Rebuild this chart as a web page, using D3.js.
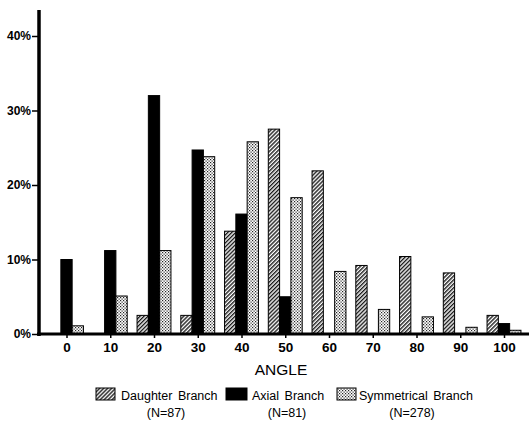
<!DOCTYPE html>
<html><head><meta charset="utf-8">
<script src="https://cdn.jsdelivr.net/npm/d3@7/dist/d3.min.js"></script>
<style>
body{margin:0;background:#fff;}
svg{display:block;}
.tk text{font-family:"Liberation Sans Narrow","Arial Narrow",sans-serif;font-weight:bold;fill:#000;}
</style></head><body>
<svg id="c" width="529" height="422"></svg>
<script>
const angles = [0,10,20,30,40,50,60,70,80,90,100];
const daughter = [0,0,2.5,2.5,13.8,27.5,21.9,9.2,10.4,8.2,2.5];
const axial = [10.0,11.2,32.0,24.7,16.1,5.0,0,0,0,0,1.4];
const symmetrical = [1.1,5.1,11.2,23.8,25.8,18.3,8.4,3.3,2.3,0.9,0.5];
const yTicks = [0,10,20,30,40];
const seriesNames = ["Daughter Branch","Axial Branch","Symmetrical Branch"];
const seriesN = ["(N=87)","(N=81)","(N=278)"];

const svg = d3.select("#c");
const defs = svg.append("defs");
const ph = defs.append("pattern").attr("id","hatch").attr("patternUnits","userSpaceOnUse")
  .attr("width",2.8).attr("height",2.8).attr("patternTransform","rotate(45)");
ph.append("rect").attr("width",2.8).attr("height",2.8).attr("fill","#fff");
ph.append("rect").attr("width",1.4).attr("height",2.8).attr("fill","#1a1a1a");
const pd = defs.append("pattern").attr("id","dots").attr("patternUnits","userSpaceOnUse")
  .attr("width",3).attr("height",3);
pd.append("rect").attr("width",3).attr("height",3).attr("fill","#fff");
pd.append("rect").attr("x",0).attr("y",0).attr("width",1.2).attr("height",1.2).attr("fill","#222");
pd.append("rect").attr("x",1.5).attr("y",1.5).attr("width",1.2).attr("height",1.2).attr("fill","#222");

const fills = ["url(#hatch)","#000","url(#dots)"];
const x = d3.scaleLinear().domain([0,100]).range([66.5,504]);
const y = d3.scaleLinear().domain([0,40]).range([334,36]);
const bw = 11.3;
const offs = [-1.5,-0.5,0.5];
const data = [daughter,axial,symmetrical];

data.forEach((vals,si)=>{
  svg.append("g").selectAll("rect").data(angles.map((a,i)=>({a,v:vals[i]})).filter(d=>d.v>0))
    .join("rect")
    .attr("x",d=>x(d.a)+offs[si]*bw)
    .attr("y",d=>y(d.v))
    .attr("width",bw)
    .attr("height",d=>y(0)-y(d.v))
    .attr("fill",fills[si])
    .attr("stroke","#000").attr("stroke-width",1);
});

// y axis
const ya = svg.append("g").attr("class","tk").attr("transform","translate(39,0)")
  .call(d3.axisLeft(y).tickValues(yTicks).tickSize(7).tickPadding(1).tickFormat(d=>d+"%"));
ya.select(".domain").remove();
ya.selectAll("line").attr("stroke","#000").attr("stroke-width",1.5);
ya.selectAll("text").attr("font-size",12);
svg.append("line").attr("x1",39).attr("x2",39).attr("y1",10).attr("y2",336)
  .attr("stroke","#000").attr("stroke-width",3.5);

// x axis
const xa = svg.append("g").attr("class","tk").attr("transform","translate(0,334)")
  .call(d3.axisBottom(x).tickValues(angles).tickSize(4).tickPadding(4).tickFormat(d=>d));
xa.select(".domain").remove();
xa.selectAll("line").attr("stroke","#000").attr("stroke-width",1.5);
xa.selectAll("text").attr("font-size",13.5);
svg.append("line").attr("x1",37).attr("x2",529).attr("y1",334).attr("y2",334)
  .attr("stroke","#000").attr("stroke-width",3);

svg.append("text").attr("x",281).attr("y",375).attr("text-anchor","middle")
  .attr("font-family","Liberation Sans Narrow, Arial Narrow, sans-serif").attr("font-size",15.5).text("ANGLE");

// legend
const lg = [{sx:96,sw:19,tx:121,nx:166},{sx:226,sw:21,tx:252,nx:287},{sx:337,sw:19,tx:359,nx:412}];
lg.forEach((l,i)=>{
  svg.append("rect").attr("x",l.sx).attr("y",388).attr("width",l.sw).attr("height",12)
    .attr("fill",fills[i]).attr("stroke","#000").attr("stroke-width",1);
  svg.append("text").attr("x",l.tx).attr("y",399.5).attr("font-family","Liberation Sans, Arial, sans-serif")
    .attr("font-size",12.5).attr("word-spacing",2).text(seriesNames[i]);
  svg.append("text").attr("x",l.nx).attr("y",417).attr("text-anchor","middle")
    .attr("font-family","Liberation Sans Narrow, Arial Narrow, sans-serif").attr("font-size",12.5).text(seriesN[i]);
});
</script></body></html>
